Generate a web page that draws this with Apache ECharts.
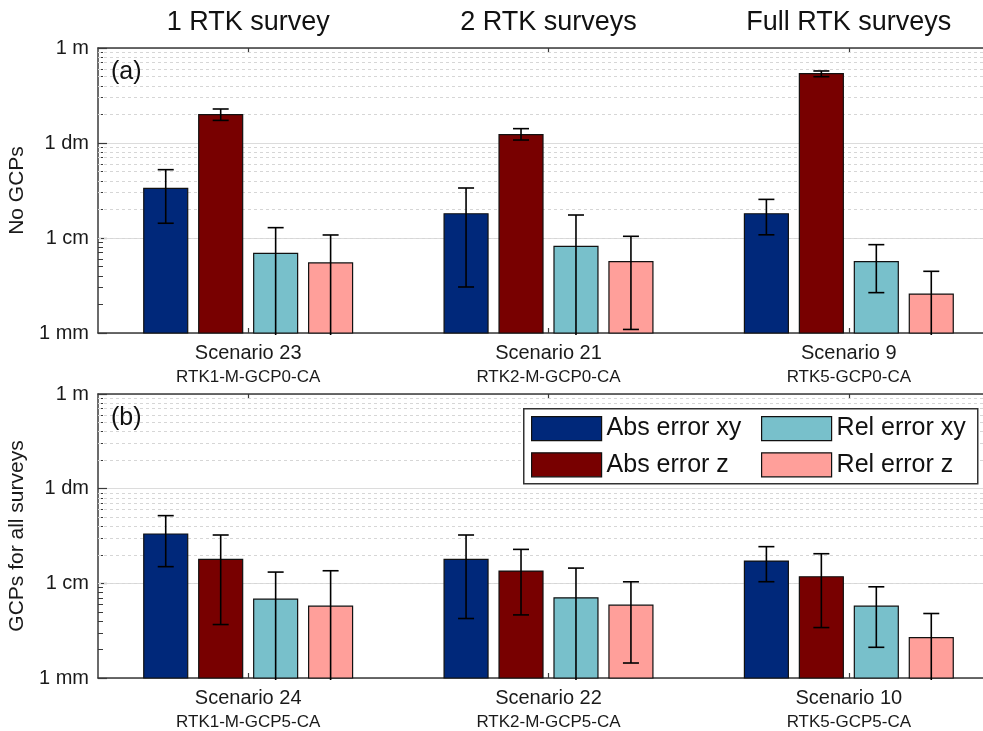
<!DOCTYPE html>
<html>
<head>
<meta charset="utf-8">
<script src="https://cdn.jsdelivr.net/npm/echarts@6/dist/echarts.min.js"></script>
<style>html,body{margin:0;padding:0;background:#fff;}#c{width:983px;height:731px;}</style>
</head>
<body>
<div id="c"></div>
<script>
// ---- data (values in metres) ----
const COLUMN_TITLES = ['1 RTK survey', '2 RTK surveys', 'Full RTK surveys'];
const SCEN_A = ['Scenario 23', 'Scenario 21', 'Scenario 9'];
const CODE_A = ['RTK1-M-GCP0-CA', 'RTK2-M-GCP0-CA', 'RTK5-GCP0-CA'];
const SCEN_B = ['Scenario 24', 'Scenario 22', 'Scenario 10'];
const CODE_B = ['RTK1-M-GCP5-CA', 'RTK2-M-GCP5-CA', 'RTK5-GCP5-CA'];
const SERIES_NAMES = ['Abs error xy', 'Abs error z', 'Rel error xy', 'Rel error z'];

// panel (a): No GCPs
const ABS_XY_A = [0.0333, 0.0180, 0.0180];
const ABS_XY_A_LO = [0.0143, 0.00305, 0.0108];
const ABS_XY_A_HI = [0.0524, 0.0336, 0.0255];
const ABS_Z_A = [0.199, 0.1225, 0.537];
const ABS_Z_A_LO = [0.173, 0.1075, 0.499];
const ABS_Z_A_HI = [0.228, 0.1416, 0.573];
const REL_XY_A = [0.0069, 0.00817, 0.00564];
const REL_XY_A_LO = [0.001, 0.001, 0.00266];
const REL_XY_A_HI = [0.01285, 0.01746, 0.00851];
const REL_Z_A = [0.00546, 0.00564, 0.00257];
const REL_Z_A_LO = [0.001, 0.00109, 0.001];
const REL_Z_A_HI = [0.01076, 0.01042, 0.00446];

// panel (b): GCPs for all surveys
const ABS_XY_B = [0.0332, 0.0179, 0.0172];
const ABS_XY_B_LO = [0.0150, 0.00425, 0.0104];
const ABS_XY_B_HI = [0.0519, 0.0324, 0.0244];
const ABS_Z_B = [0.0179, 0.01346, 0.01173];
const ABS_Z_B_LO = [0.00367, 0.00464, 0.00341];
const ABS_Z_B_HI = [0.0324, 0.02284, 0.02055];
const REL_XY_B = [0.0068, 0.00703, 0.00574];
const REL_XY_B_LO = [0.001, 0.001, 0.00211];
const REL_XY_B_HI = [0.01315, 0.01449, 0.00919];
const REL_Z_B = [0.00574, 0.00588, 0.00267];
const REL_Z_B_LO = [0.001, 0.00144, 0.001];
const REL_Z_B_HI = [0.01358, 0.01038, 0.0048];

// axis ticks
const Y_MIN = 0.001, Y_MAX = 1;
const Y_TICK_LABELS = {'0.001': '1 mm', '0.01': '1 cm', '0.1': '1 dm', '1': '1 m'};
const MINOR_TICKS = [0.002,0.003,0.004,0.005,0.006,0.007,0.008,0.009,
                     0.02,0.03,0.04,0.05,0.06,0.07,0.08,0.09,
                     0.2,0.3,0.4,0.5,0.6,0.7,0.8,0.9];

// ---- styles ----
const COLORS = ['#00287a', '#780000', '#78c0cb', '#ff9f9a'];
const FONT = 'Liberation Sans, Arial, sans-serif';
const AXIS_COLOR = '#3a3a3a';
const BAR_FRAC = 0.1464, STEP_FRAC = 0.183, CAP = 8;

const chart = echarts.init(document.getElementById('c'), null, {renderer: 'canvas'});

function makeBarSeries(k, gridIdx, vals, lo, hi) {
  return {
    name: SERIES_NAMES[k],
    type: 'custom',
    xAxisIndex: gridIdx * 2,
    yAxisIndex: gridIdx,
    z: 3,
    itemStyle: {color: COLORS[k], borderColor: '#111', borderWidth: 1},
    encode: {x: 0, y: 1},
    data: vals.map((v, i) => [i, v, lo[i], hi[i]]),
    renderItem: function (params, api) {
      const cat = api.value(0), v = api.value(1), l = api.value(2), h = api.value(3);
      const band = api.size([1, 1])[0];
      const bw = band * BAR_FRAC, step = band * STEP_FRAC;
      const c = api.coord([cat, v]);
      const cx = c[0] + (k - 1.5) * step;
      const yTop = c[1];
      const yBase = api.coord([cat, Y_MIN])[1];
      const yLo = api.coord([cat, l])[1];
      const yHi = api.coord([cat, h])[1];
      const children = [
        {type: 'rect', shape: {x: cx - bw / 2, y: yTop, width: bw, height: yBase - yTop},
         style: {fill: COLORS[k], stroke: '#111', lineWidth: 1.2}},
        {type: 'line', shape: {x1: cx, y1: yHi, x2: cx, y2: l > Y_MIN ? yLo : yLo + 2},
         style: {stroke: '#000', lineWidth: 1.6}},
        {type: 'line', shape: {x1: cx - CAP, y1: yHi, x2: cx + CAP, y2: yHi},
         style: {stroke: '#000', lineWidth: 1.6}}
      ];
      if (l > Y_MIN) {
        children.push({type: 'line', shape: {x1: cx - CAP, y1: yLo, x2: cx + CAP, y2: yLo},
          style: {stroke: '#000', lineWidth: 1.6}});
      }
      return {type: 'group', children: children};
    }
  };
}

function minorGridSeries(gridIdx) {
  return {
    type: 'line', xAxisIndex: gridIdx * 2, yAxisIndex: gridIdx, data: [], z: 1, silent: true,
    markLine: {
      z: 1, zlevel: 0,
      silent: true, symbol: 'none', label: {show: false}, animation: false,
      lineStyle: {type: [3, 3], color: '#d6d6d6', width: 1},
      emphasis: {disabled: true},
      data: MINOR_TICKS.map(v => ({yAxis: v}))
    }
  };
}

function bottomXAxis(gridIdx, scen, code) {
  return {
    type: 'category', gridIndex: gridIdx, position: 'bottom',
    data: scen.map((s, i) => s + '\n' + code[i]),
    axisLine: {show: true, lineStyle: {color: AXIS_COLOR, width: 1.5}},
    axisTick: {show: true, inside: true, alignWithLabel: true, length: 5, lineStyle: {color: AXIS_COLOR, width: 1.2}},
    axisLabel: {
      margin: 8, color: '#1a1a1a', fontFamily: FONT,
      formatter: function (val) {
        const p = val.split('\n');
        return '{s|' + p[0] + '}\n{c|' + p[1] + '}';
      },
      rich: {
        s: {fontSize: 20, lineHeight: 25, fontFamily: FONT, color: '#1a1a1a'},
        c: {fontSize: 17, lineHeight: 22, fontFamily: FONT, color: '#1a1a1a'}
      }
    },
    splitLine: {show: false}
  };
}

function topXAxis(gridIdx, titles) {
  return {
    type: 'category', gridIndex: gridIdx, position: 'top',
    data: titles,
    axisLine: {show: true, lineStyle: {color: AXIS_COLOR, width: 1.5}},
    axisTick: {show: true, inside: true, alignWithLabel: true, length: 5, lineStyle: {color: AXIS_COLOR, width: 1.2}},
    axisLabel: {show: !!titles[0], margin: 12, fontSize: 27, color: '#111', fontFamily: FONT},
    splitLine: {show: false}
  };
}

function yAxis(gridIdx, name) {
  return {
    type: 'log', logBase: 10, gridIndex: gridIdx, min: Y_MIN, max: Y_MAX,
    name: name, nameLocation: 'middle', nameGap: 62,
    nameTextStyle: {fontSize: 21, fontFamily: FONT, color: '#1a1a1a'},
    axisLine: {show: true, lineStyle: {color: AXIS_COLOR, width: 1.5}},
    axisTick: {show: true, inside: true, length: 9, lineStyle: {color: AXIS_COLOR, width: 1.2}},
    minorTick: {show: true, splitNumber: 9, length: 5, lineStyle: {color: AXIS_COLOR, width: 1}},
    axisLabel: {
      margin: 9, fontSize: 20, color: '#1a1a1a', fontFamily: FONT,
      formatter: function (v) {
        const key = String(Number(v.toPrecision(3)));
        return Y_TICK_LABELS[key] !== undefined ? Y_TICK_LABELS[key] : '';
      }
    },
    splitLine: {show: true, lineStyle: {color: '#dcdcdc', width: 1.2}}
  };
}

const option = {
  backgroundColor: '#fff',
  animation: false,
  textStyle: {fontFamily: FONT},
  title: [
    {text: '(a)', left: 111, top: 60, textStyle: {fontSize: 25, fontWeight: 'normal', color: '#111', fontFamily: FONT}, padding: 0},
    {text: '(b)', left: 111, top: 406, textStyle: {fontSize: 25, fontWeight: 'normal', color: '#111', fontFamily: FONT}, padding: 0}
  ],
  grid: [
    {left: 98, width: 901, top: 48, height: 285, containLabel: false, outerBoundsMode: 'none'},
    {left: 98, width: 901, top: 394, height: 284, containLabel: false, outerBoundsMode: 'none'}
  ],
  xAxis: [
    bottomXAxis(0, SCEN_A, CODE_A),
    topXAxis(0, COLUMN_TITLES),
    bottomXAxis(1, SCEN_B, CODE_B),
    topXAxis(1, ['', '', ''])
  ],
  yAxis: [yAxis(0, 'No GCPs'), yAxis(1, 'GCPs for all surveys')],
  graphic: [{
    type: 'rect', z: 5, left: 523, top: 408, silent: true,
    shape: {width: 454, height: 75},
    style: {fill: '#fff', stroke: '#333', lineWidth: 1.5}
  }],
  legend: [
    {data: ['Abs error xy', 'Abs error z'], orient: 'vertical', left: 531, top: 416, padding: 0,
     itemWidth: 70, itemHeight: 24, itemGap: 11, icon: 'rect', z: 6, selectedMode: false,
     itemStyle: {borderColor: '#111', borderWidth: 1.2},
     textStyle: {fontSize: 25, color: '#111', fontFamily: FONT}},
    {data: ['Rel error xy', 'Rel error z'], orient: 'vertical', left: 761, top: 416, padding: 0,
     itemWidth: 70, itemHeight: 24, itemGap: 11, icon: 'rect', z: 6, selectedMode: false,
     itemStyle: {borderColor: '#111', borderWidth: 1.2},
     textStyle: {fontSize: 25, color: '#111', fontFamily: FONT}}
  ],
  series: [
    minorGridSeries(0),
    minorGridSeries(1),
    makeBarSeries(0, 0, ABS_XY_A, ABS_XY_A_LO, ABS_XY_A_HI),
    makeBarSeries(1, 0, ABS_Z_A, ABS_Z_A_LO, ABS_Z_A_HI),
    makeBarSeries(2, 0, REL_XY_A, REL_XY_A_LO, REL_XY_A_HI),
    makeBarSeries(3, 0, REL_Z_A, REL_Z_A_LO, REL_Z_A_HI),
    makeBarSeries(0, 1, ABS_XY_B, ABS_XY_B_LO, ABS_XY_B_HI),
    makeBarSeries(1, 1, ABS_Z_B, ABS_Z_B_LO, ABS_Z_B_HI),
    makeBarSeries(2, 1, REL_XY_B, REL_XY_B_LO, REL_XY_B_HI),
    makeBarSeries(3, 1, REL_Z_B, REL_Z_B_LO, REL_Z_B_HI)
  ]
};
chart.setOption(option);
</script>
</body>
</html>
